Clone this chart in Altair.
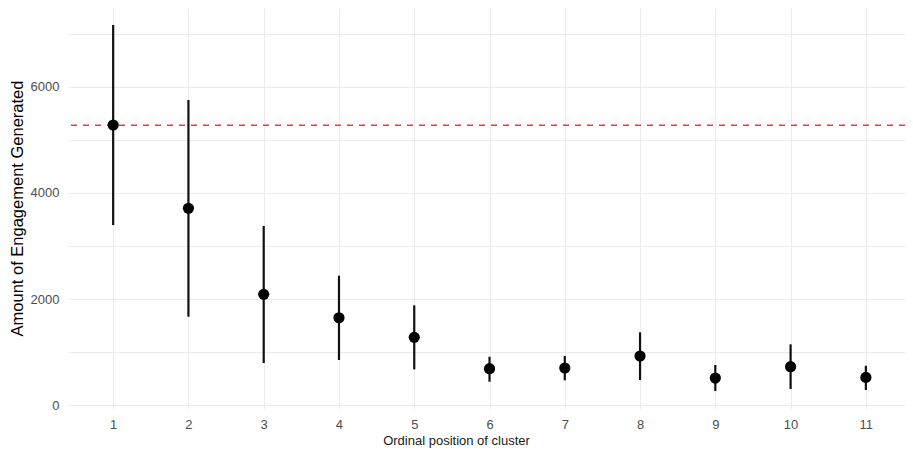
import altair as alt
import pandas as pd

positions = [1, 2, 3, 4, 5, 6, 7, 8, 9, 10, 11]
means = [5283, 3711, 2088, 1647, 1277, 685, 698, 925, 509, 723, 521]
upper = [7170, 5755, 3377, 2440, 1881, 911, 925, 1372, 755, 1145, 742]
lower = [3396, 1666, 792, 849, 673, 440, 466, 472, 264, 302, 283]
ref_value = [5280]
y_ticks = [0, 1000, 2000, 3000, 4000, 5000, 6000, 7000]

df = pd.DataFrame({"pos": positions, "mean": means, "lo": lower, "hi": upper})
ref = pd.DataFrame({"ref": ref_value})

FONT = "Liberation Sans"
xscale = alt.Scale(domain=[0.4, 11.52], nice=False, zero=False)
yscale = alt.Scale(domain=[-75, 7490], nice=False, zero=False)

xaxis = alt.Axis(
    values=positions, format="d", title="Ordinal position of cluster",
    domain=False, ticks=False, grid=True, gridColor="#ebebeb", gridWidth=1,
    labelColor="#4d4d4d", labelFont=FONT, labelFontSize=13, labelPadding=9,
    titleFont=FONT, titleFontSize=13, titleFontWeight="normal", titleColor="#1a1a1a",
    titleX=388, titleY=31, titleAlign="center", titleBaseline="middle",
)
yaxis = alt.Axis(
    values=y_ticks, format="d", title="Amount of Engagement Generated",
    labelExpr="datum.value % 2000 === 0 ? datum.label : ''",
    domain=False, ticks=False, grid=True, gridColor="#ebebeb", gridWidth=1,
    labelColor="#4d4d4d", labelFont=FONT, labelFontSize=13, labelPadding=9,
    titleFont=FONT, titleFontSize=16.5, titleFontWeight="normal", titleColor="#000000",
    titleX=-51, titleY=200, titleAngle=-90, titleAlign="center", titleBaseline="middle",
)

bars = alt.Chart(df).mark_rule(color="#111111", strokeWidth=2.2).encode(
    x=alt.X("pos:Q", scale=xscale, axis=xaxis),
    y=alt.Y("lo:Q", scale=yscale, axis=yaxis),
    y2="hi:Q",
)

refline = alt.Chart(ref).mark_rule(color="#e8402a", strokeWidth=1.5, strokeDash=[6, 6]).encode(
    y=alt.Y("ref:Q", scale=yscale, axis=yaxis),
)

points = alt.Chart(df).mark_circle(color="#000000", opacity=1, size=125).encode(
    x=alt.X("pos:Q", scale=xscale, axis=xaxis),
    y=alt.Y("mean:Q", scale=yscale, axis=yaxis),
)

chart = alt.layer(bars, refline, points).properties(
    width=837, height=401,
    autosize=alt.AutoSizeParams(type="none"),
    padding={"left": 60, "top": 0, "right": 0, "bottom": 39},
).configure_view(stroke=None)

chart.save("out.html", embed_options={"renderer": "svg", "actions": False})
